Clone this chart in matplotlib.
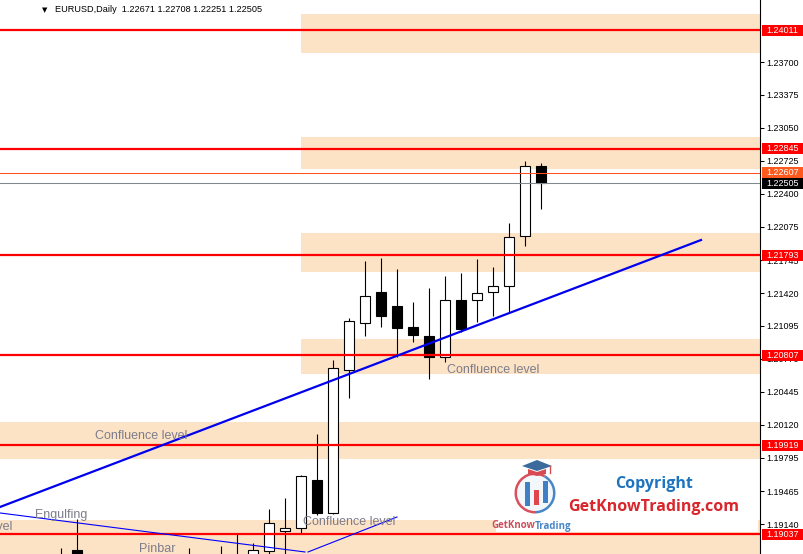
import matplotlib
matplotlib.use("Agg")
import matplotlib.pyplot as plt
import numpy as np
from matplotlib.patches import Rectangle, Circle, Polygon, Wedge
from matplotlib.transforms import blended_transform_factory

plt.rcParams['font.family'] = ['Liberation Sans', 'DejaVu Sans']

# ---------------- data ----------------
symbol = "EURUSD,Daily"
nan = np.nan
days = list(range(31))
opens = [1.1872, 1.18883, nan, nan, nan, nan, nan, nan, 1.1876, nan,
         1.1870, 1.1878, 1.1875, 1.18874, 1.19071, 1.19101, 1.19574, 1.19249, 1.20660, 1.21124,
         1.21430, 1.21292, 1.21084, 1.20996, 1.20788, 1.21351, 1.21351, 1.21430, 1.21489, 1.21983,
         1.22671]
highs = [1.18903, 1.19189, nan, nan, nan, nan, nan, nan, 1.18903, nan,
         1.18923, 1.19051, 1.18953, 1.19288, 1.19397, 1.19624, 1.20028, 1.20759, 1.21173, 1.21736,
         1.21765, 1.21657, 1.21331, 1.21469, 1.21588, 1.21617, 1.21756, 1.21677, 1.22111, 1.22723,
         1.22708]
lows = [1.1860, 1.1855, nan, nan, nan, nan, nan, nan, 1.1862, nan,
        1.1865, 1.1866, 1.1870, 1.1880, 1.1878, 1.19051, 1.19229, 1.19239, 1.20384, 1.20996,
        1.21084, 1.20788, 1.20936, 1.20571, 1.20739, 1.21035, 1.21134, 1.21193, 1.21232, 1.21884,
        1.22251]
closes = [1.1868, 1.1860, nan, nan, nan, nan, nan, nan, 1.1870, nan,
          1.1878, 1.1874, 1.18883, 1.19150, 1.19101, 1.19614, 1.19249, 1.20680, 1.21144, 1.21390,
          1.21193, 1.21075, 1.21005, 1.20788, 1.21351, 1.21065, 1.21420, 1.21489, 1.21973, 1.22671,
          1.22505]

levels = [1.24011, 1.22845, 1.21793, 1.20807, 1.19919, 1.19037]
zone_lo = [1.23789, 1.22644, 1.21627, 1.20620, 1.19782, 1.18600]
zone_hi = [1.24174, 1.22960, 1.22012, 1.20966, 1.20147, 1.19180]
zone_start = [15, 15, 15, 15, -10, -10]

ask_price = 1.22607
bid_price = closes[-1]

tick_values = [1.23700, 1.23375, 1.23050, 1.22725, 1.22400, 1.22075, 1.21745, 1.21420,
               1.21095, 1.20770, 1.20445, 1.20120, 1.19795, 1.19465, 1.19140]

trend_x = [-3.8125, 40.0]
trend_y = [1.19308, 1.21943]
thin1_x = [-3.8125, 15.25]
thin1_y = [1.19249, 1.18864]
thin2_x = [15.44, 21.0]
thin2_y = [1.18864, 1.19209]

labels = ["Confluence level", "Confluence level", "Confluence level", "Confluence level",
          "Engulfing", "Pinbar"]
label_x = [24.125, 2.125, 15.125, -3.06, -1.625, 4.875]
label_y = [1.20660, 1.20009, 1.19160, 1.19110, 1.19229, 1.18893]
label_ha = ["left", "left", "left", "right", "left", "left"]

# ---------------- figure ----------------
W, H = 804, 554
fig = plt.figure(figsize=(W / 100, H / 100), dpi=100)
fig.patch.set_facecolor("white")
ax = fig.add_axes([0, 0, 760 / W, 1])
ax.set_facecolor("white")
ax.set_xlim(-3.8125, 43.6875)
ax.set_ylim(1.18844, 1.24312)

for s in ["top", "left", "bottom"]:
    ax.spines[s].set_visible(False)
ax.spines["right"].set_color("black")
ax.spines["right"].set_linewidth(0.8)
ax.set_xticks([])
ax.yaxis.set_ticks_position("right")
ax.set_yticks(tick_values)
ax.set_yticklabels([f"{t:.5f}" for t in tick_values])
ax.tick_params(axis="y", direction="out", length=3, width=0.75, pad=1.5,
               labelsize=6.5, colors="black")

# zones
for lo, hi, st in zip(zone_lo, zone_hi, zone_start):
    ax.add_patch(Rectangle((st, lo), 80, hi - lo, facecolor="#fde3c6",
                           edgecolor="none", zorder=0))

# level lines
for lv in levels:
    ax.axhline(lv, color="#ff0000", lw=1.6, zorder=4)
ax.axhline(ask_price, color="#ff5020", lw=0.75, zorder=4)
ax.axhline(bid_price, color="#808890", lw=0.75, zorder=4)

# candles
d = np.array(days, dtype=float)
o = np.array(opens); h = np.array(highs); l = np.array(lows); c = np.array(closes)
ok = ~np.isnan(o)
ax.vlines(d[ok], l[ok], h[ok], color="black", lw=0.8, zorder=2)
bull = ok & (c >= o)
bear = ok & (c < o)
ax.bar(d[bull], c[bull] - o[bull], bottom=o[bull], width=0.62, color="white",
       edgecolor="black", linewidth=0.8, zorder=3)
ax.bar(d[bear], o[bear] - c[bear], bottom=c[bear], width=0.62, color="black",
       edgecolor="black", linewidth=0.8, zorder=3)

# trend lines
ax.plot(trend_x, trend_y, color="#0000ee", lw=1.6, zorder=5)
ax.plot(thin1_x, thin1_y, color="#0000ff", lw=0.8, zorder=5)
ax.plot(thin2_x, thin2_y, color="#0000ff", lw=0.8, zorder=5)

# labels
for t, x, y, ha in zip(labels, label_x, label_y, label_ha):
    ax.text(x, y, t, ha=ha, va="center", fontsize=9, color="#7c7c8c", zorder=6)

# price boxes on the axis
bt = blended_transform_factory(fig.transFigure, ax.transData)
hh = 11 * (1.24312 - 1.18844) / H
boxes = [(lv, "#ff0000", "white") for lv in levels] + \
        [(ask_price, "#ff5a1e", "white"), (bid_price, "black", "white")]
for val, fc, tc in boxes:
    r = Rectangle((762 / W, val - hh / 2), 42 / W, hh, transform=bt,
                  facecolor=fc, edgecolor="none", clip_on=False, zorder=10)
    ax.add_patch(r)
    ax.text(766 / W, val, f"{val:.5f}", transform=bt, ha="left", va="center",
            fontsize=6.5, color=tc, clip_on=False, zorder=11)

# header
fig.text(45 / W, 1 - 10 / H, "\u25BC", fontsize=5, color="black", ha="center",
         va="center", family="DejaVu Sans")
fig.text(55 / W, 1 - 10 / H,
         f"{symbol}  {opens[-1]:.5f} {highs[-1]:.5f} {lows[-1]:.5f} {closes[-1]:.5f}",
         fontsize=6.6, color="black", ha="left", va="center")

# logo
lx0, ly0, lw_, lh_ = 496, 459, 262, 73
lax = fig.add_axes([lx0 / W, 1 - (ly0 + lh_) / H, lw_ / W, lh_ / H])
lax.set_xlim(0, lw_)
lax.set_ylim(lh_, 0)
lax.set_facecolor("white")
lax.axis("off")
lax.add_patch(Rectangle((0, 0), lw_, lh_, facecolor="white", edgecolor="none"))
lax.add_patch(Circle((39, 34), 18.5, facecolor="#f2f7fc", edgecolor="none"))
lax.add_patch(Wedge((39, 34), 20.5, 90, 300, width=2.5, facecolor="#d94f5c", edgecolor="none"))
lax.add_patch(Wedge((39, 34), 20.5, -60, 90, width=2.5, facecolor="#4a86c5", edgecolor="none"))
lax.add_patch(Rectangle((29.5, 23), 5, 24, facecolor="#3f7fc6", edgecolor="none"))
lax.add_patch(Rectangle((38.5, 31), 5, 15, facecolor="#e0474c", edgecolor="none"))
lax.add_patch(Rectangle((47.5, 22), 5, 22, facecolor="#3f7fc6", edgecolor="none"))
lax.add_patch(Polygon([(26, 7), (41, 1), (56, 7), (41, 12)], closed=True,
                      facecolor="#3a6b9c", edgecolor="none"))
lax.add_patch(Polygon([(32, 10), (41, 13), (50, 10), (50, 15), (41, 17), (32, 15)],
                      closed=True, facecolor="#d84a52", edgecolor="none"))
lax.plot([54, 54], [7, 14], color="#d84a52", lw=1)
lax.text(39, 67, "GetKnow", ha="right", va="center", fontsize=7, color="#c9505c",
         fontweight="bold", family="Open Sans")
lax.text(39, 67, "Trading", ha="left", va="center", fontsize=7, color="#4a86c5",
         fontweight="bold", family="Open Sans")
lax.text(158, 25, "Copyright", ha="center", va="center", fontsize=11.5, color="#1f74c0",
         fontweight="bold", family="Open Sans")
lax.text(158, 48, "GetKnowTrading.com", ha="center", va="center", fontsize=11.5,
         color="#d9262c", fontweight="bold", family="Open Sans")

fig.savefig("out.png", dpi=100)
